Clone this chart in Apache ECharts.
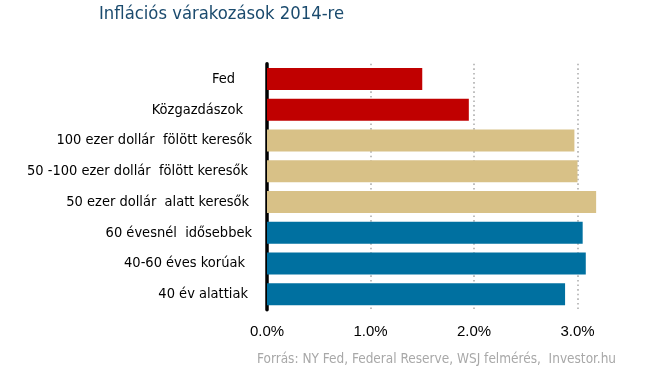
<!DOCTYPE html>
<html><head><meta charset="utf-8">
<script src="https://cdn.jsdelivr.net/npm/echarts@6/dist/echarts.min.js"></script>
<style>html,body{margin:0;padding:0;background:#fff}#c{width:645px;height:370px}</style>
</head><body><div id="c"></div>
<script>
const categories = ['Fed','Közgazdászok','100 ezer dollár  fölött keresők','50 -100 ezer dollár  fölött keresők','50 ezer dollár  alatt keresők','60 évesnél  idősebbek','40-60 éves korúak','40 év alattiak'];
const values = [1.5, 1.95, 2.97, 3.0, 3.18, 3.05, 3.08, 2.88];
const groups = ['red','red','tan','tan','tan','blue','blue','blue'];
const xTicks = [0, 1, 2, 3];
const titleText = 'Inflációs várakozások 2014-re';
const sourceText = 'Forrás: NY Fed, Federal Reserve, WSJ felmérés,  Investor.hu';

const colors = {red:'#c00000', tan:'#d8c187', blue:'#0070a0'};
const nudge = [[-6,17],[-6,9],[-1,0],[-6,4],[-2,3],[-1,0],[-5,7],[-1,4]];
const labelFont = "'DejaVu Sans Condensed','DejaVu Sans',sans-serif";

const chart = echarts.init(document.getElementById('c'));
chart.setOption({
  animation:false,
  title:[{text:titleText,left:94,top:0,textStyle:{fontFamily:labelFont,fontSize:18.3,fontWeight:'normal',color:'#1b4b6e'}},
         {text:sourceText,left:252,top:347,textStyle:{fontFamily:labelFont,fontSize:13.5,fontWeight:'normal',color:'#a8a8a8'}}],
  grid:{left:267,top:63.7,width:362.25,height:246,containLabel:false},
  xAxis:{type:'value',min:0,max:3.5,interval:1,
    axisLine:{show:false},axisTick:{show:false},
    axisLabel:{showMaxLabel:false,margin:15,fontFamily:"'Liberation Sans',Arial,sans-serif",fontSize:15,color:'#000',
      formatter:v=>xTicks.includes(v)?v.toFixed(1)+'%':''},
    splitLine:{show:true,showMinLine:false,showMaxLine:false,lineStyle:{color:'#b0b0b0',width:1.6,type:[1.6,3]}}
  },
  yAxis:{type:'category',inverse:true,
    data:categories.map((c,i)=>({value:c,textStyle:{padding:[0,nudge[i][1],-2*nudge[i][0],0]}})),
    axisLine:{show:true,lineStyle:{color:'#000',width:3.5}},axisTick:{show:false},
    axisLabel:{margin:15,fontFamily:labelFont,fontSize:14.5,color:'#000'}
  },
  series:[{type:'bar',barWidth:22,
    data:values.map((v,i)=>({value:v,itemStyle:{color:colors[groups[i]]}}))}]
});
</script></body></html>
